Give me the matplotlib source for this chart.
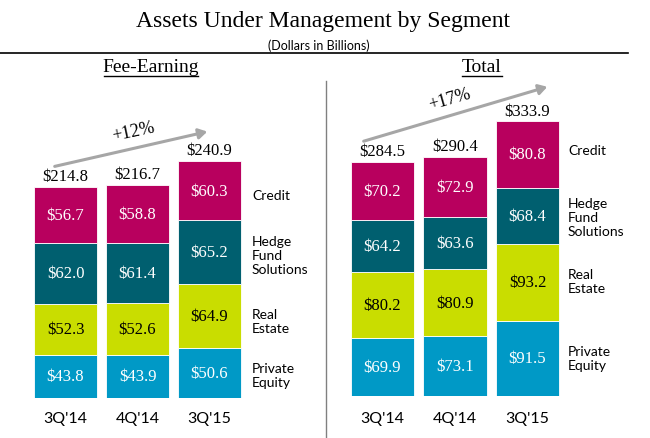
import numpy as np
import matplotlib
matplotlib.use("Agg")
import matplotlib.pyplot as plt

# data
quarters = ["3Q'14", "4Q'14", "3Q'15"]
segments = ["Private\nEquity", "Real\nEstate", "Hedge\nFund\nSolutions", "Credit"]
colors = ["#0099C6", "#C9DD00", "#005F6F", "#B8005E"]
txtcolors = ["white", "black", "white", "white"]

fee_pe = [43.8, 43.9, 50.6]
fee_re = [52.3, 52.6, 64.9]
fee_hf = [62.0, 61.4, 65.2]
fee_cr = [56.7, 58.8, 60.3]
fee_tot = [214.8, 216.7, 240.9]

tot_pe = [69.9, 73.1, 91.5]
tot_re = [80.2, 80.9, 93.2]
tot_hf = [64.2, 63.6, 68.4]
tot_cr = [70.2, 72.9, 80.8]
tot_tot = [284.5, 290.4, 333.9]

W, H = 650, 439
fig = plt.figure(figsize=(6.5, 4.39), dpi=100)
serif = "Liberation Serif"
sans = "Lato"

def px(x0, y0, x1, y1):
    # pixel box (top-left origin) -> figure fraction rect
    return [x0 / W, 1 - y1 / H, (x1 - x0) / W, (y1 - y0) / H]

def panel(rect, ytop, series, totals, leg_x, leg_y):
    ax = fig.add_axes(rect)
    x = np.arange(3)
    bottom = np.zeros(3)
    for vals, c, tc in zip(series, colors, txtcolors):
        ax.bar(x, vals, 0.875, bottom=bottom, color=c, edgecolor="white", linewidth=0.6)
        for i, v in enumerate(vals):
            ax.text(x[i], bottom[i] + v / 2, "$%.1f" % v, ha="center", va="center",
                    color=tc, fontsize=12, family=serif)
        bottom += np.array(vals)
    for i, t in enumerate(totals):
        ax.text(x[i], t + 3, "$%.1f" % t, ha="center", va="bottom", fontsize=12, family=serif)
    ax.set_xlim(-0.5, 2.5)
    ax.set_ylim(0, ytop)
    ax.axis("off")
    for i, q in enumerate(quarters):
        ax.text(x[i], -ytop * 0.07, q, ha="center", va="center", fontsize=11.5, family=sans)
    for s, yy in zip(segments, leg_y):
        fig.text(leg_x / W, 1 - yy / H, s, ha="left", va="center", fontsize=10,
                 family=sans, linespacing=1.2)
    return ax

panel(px(29.5, 110, 245.5, 399), 294, [fee_pe, fee_re, fee_hf, fee_cr], fee_tot,
      252, [376, 322, 256, 196])
panel(px(346.25, 80, 563.75, 397), 385, [tot_pe, tot_re, tot_hf, tot_cr], tot_tot,
      568, [359, 282, 218, 151])

# titles
fig.text(323 / W, 1 - 22 / H, "Assets Under Management by Segment", ha="center", va="center",
         fontsize=17, family=serif)
fig.text(319 / W, 1 - 46 / H, "(Dollars in Billions)", ha="center", va="center",
         fontsize=9, family=sans)
fig.text(151 / W, 1 - 67 / H, "Fee-Earning", ha="center", va="center", fontsize=14, family=serif)
fig.text(482 / W, 1 - 67 / H, "Total", ha="center", va="center", fontsize=14, family=serif)

# underline headings
fig.add_artist(plt.Line2D([104 / W, 198 / W], [1 - 77 / H] * 2, color="black", lw=1))
fig.add_artist(plt.Line2D([462 / W, 502 / W], [1 - 77 / H] * 2, color="black", lw=1))

# rule and divider
fig.add_artist(plt.Line2D([0, 628 / W], [1 - 54 / H] * 2, color="black", lw=1.2))
fig.add_artist(plt.Line2D([326 / W, 326 / W], [0, 1 - 82 / H], color="#808080", lw=1))

# growth arrows
for (x0, y0, x1, y1), lab, (lx, ly), rot in [
        ((52, 168, 210, 132), "+12%", (133, 132), 12),
        ((361, 143, 550, 87), "+17%", (450, 100), 16)]:
    fig.add_artist(matplotlib.patches.FancyArrowPatch(
        (x0 / W, 1 - y0 / H), (x1 / W, 1 - y1 / H), transform=fig.transFigure,
        arrowstyle="-|>,head_length=5,head_width=3", color="#A6A6A6", lw=2.2))
    fig.text(lx / W, 1 - ly / H, lab, ha="center", va="center", fontsize=13,
             family=serif, rotation=rot)

fig.savefig("out.png", dpi=100)
